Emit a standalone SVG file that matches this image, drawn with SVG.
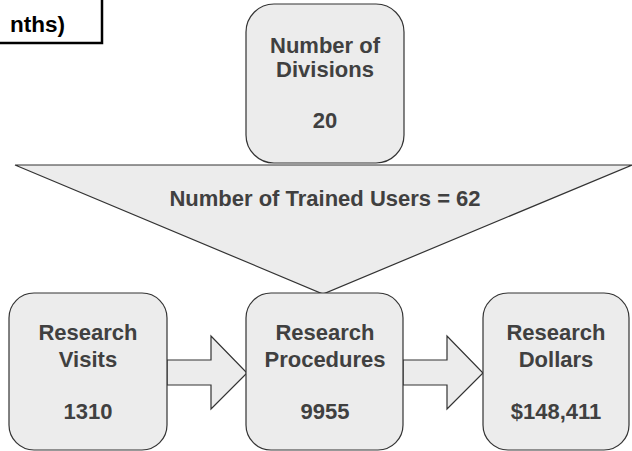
<svg xmlns="http://www.w3.org/2000/svg" width="632" height="451" viewBox="0 0 632 451">
<style>
.box{fill:#ececec;stroke:#333;stroke-width:1.2}
.arrow{fill:#ececec;stroke:#333;stroke-width:1.2;stroke-linejoin:miter}
.t{font-family:"Liberation Sans",Arial,sans-serif;font-weight:bold;font-size:22px;fill:#404040;text-anchor:middle}
</style>
<rect width="632" height="451" fill="#fff"/>
<g id="title">
<rect x="-10" y="-10" width="112" height="53" fill="#fff" stroke="#000" stroke-width="2.5"/>
<text x="65" y="32" font-family="Liberation Sans,Arial,sans-serif" font-weight="bold" font-size="22.5" fill="#000" text-anchor="end">nths)</text>
</g>
<g id="divisions">
<rect class="box" x="246" y="4" width="158" height="159" rx="28"/>
<text class="t" x="325" y="53">Number of</text>
<text class="t" x="325" y="77">Divisions</text>
<text class="t" x="325" y="128">20</text>
</g>
<g id="trained">
<polygon class="arrow" points="15,165 632,165 323,294"/>
<text class="t" x="325" y="206" font-size="22.3">Number of Trained Users = 62</text>
</g>
<g id="connectors">
<polygon class="arrow" points="167,360 211,360 211,336 247,373 211,409 211,385 167,385"/>
<polygon class="arrow" points="403,360 447,360 447,336 483,373 447,409 447,385 403,385"/>
</g>
<g id="visits">
<rect class="box" x="9" y="293" width="158" height="157" rx="25"/>
<text class="t" x="88" y="340">Research</text>
<text class="t" x="88" y="367">Visits</text>
<text class="t" x="88" y="419">1310</text>
</g>
<g id="procedures">
<rect class="box" x="246" y="293" width="157" height="157" rx="25"/>
<text class="t" x="325" y="340">Research</text>
<text class="t" x="325" y="367">Procedures</text>
<text class="t" x="325" y="419">9955</text>
</g>
<g id="dollars">
<rect class="box" x="483" y="293" width="146" height="157" rx="25"/>
<text class="t" x="556" y="340">Research</text>
<text class="t" x="556" y="367">Dollars</text>
<text class="t" x="556" y="419">$148,411</text>
</g>
</svg>
